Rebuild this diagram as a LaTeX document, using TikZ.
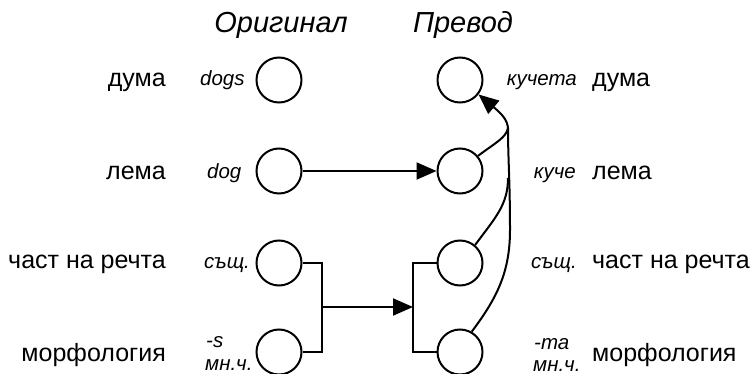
\documentclass[tikz,border=0pt]{standalone}
\usepackage{fontspec}
\setmainfont{Liberation Sans}
\usetikzlibrary{arrows.meta}
\begin{document}
\begin{tikzpicture}[x=1pt,y=-1pt,
  state/.style={circle,draw,line width=2pt,minimum size=45pt,inner sep=0pt},
  lbl/.style={font=\fontsize{25}{30}\selectfont,inner sep=0pt},
  small/.style={font=\fontsize{20.5}{24}\selectfont\itshape,inner sep=0pt},
  ttl/.style={font=\fontsize{29}{34}\selectfont\itshape,inner sep=0pt,anchor=base},
  conn/.style={line width=2pt},
  arr/.style={conn,-{Triangle[length=20pt,width=17pt]}}]
\useasboundingbox (0,0) rectangle (752,374);
% titles
\node[ttl] (t1) at (281,33) {Оригинал};
\node[ttl] (t2) at (463,33) {Превод};
% circles
\node[state] (l1) at (279,80) {};
\node[state] (l2) at (279,171) {};
\node[state] (l3) at (279,263) {};
\node[state] (l4) at (279,352) {};
\node[state] (r1) at (460,80) {};
\node[state] (r2) at (460,171) {};
\node[state] (r3) at (460,263) {};
\node[state] (r4) at (460,352) {};
% left labels
\node[lbl,anchor=base east] (a1) at (166,87) {дума};
\node[lbl,anchor=base east] (a2) at (166,180) {лема};
\node[lbl,anchor=base east] (a3) at (166,268) {част на речта};
\node[lbl,anchor=base east] (a4) at (166,361) {морфология};
% right labels
\node[lbl,anchor=base west] (b1) at (592,87) {дума};
\node[lbl,anchor=base west] (b2) at (592,180) {лема};
\node[lbl,anchor=base west] (b3) at (592,268) {част на речта};
\node[lbl,anchor=base west] (b4) at (592,361) {морфология};
% left small labels
\node[small,anchor=base west] (s1) at (200,86) {dogs};
\node[small,anchor=base west] (s2) at (207,179) {dog};
\node[small,anchor=base west] (s3) at (204,268) {същ.};
\node[small,anchor=base west] (s4a) at (206,347) {-s};
\node[small,anchor=base west] (s4b) at (205,370) {мн.ч.};
% right small labels
\node[small,anchor=base east] (u1) at (577,86) {кучета};
\node[small,anchor=base east] (u2) at (576,179) {куче};
\node[small,anchor=base east] (u3) at (577,268) {същ.};
\node[small,anchor=base west] (u4a) at (534,349) {-та};
\node[small,anchor=base west] (u4b) at (533,371) {мн.ч.};
% connectors
\draw[arr] (l2) -- (r2);
\coordinate (lb) at (322,307);
\coordinate (rb) at (413,307);
\draw[conn] (l3.east) -| (lb) |- (l4.east);
\draw[arr] (lb) -- (rb);
\draw[conn] (r3.west) -| (rb) |- (r4.west);
\coordinate (J) at (508,128);
\draw[arr] (J) .. controls (507,120) and (503,115) .. (r1.-38);
\draw[conn] (r2.40) .. controls (495,143) and (506,138) .. (J);
\draw[conn] (r3.50) .. controls (495,218) and (508,205) .. (508,178);
\draw[conn] (r4.60) .. controls (497,298) and (510,272) .. (510,230) .. controls (510,180) and (508,160) .. (J);
\end{tikzpicture}
\end{document}
